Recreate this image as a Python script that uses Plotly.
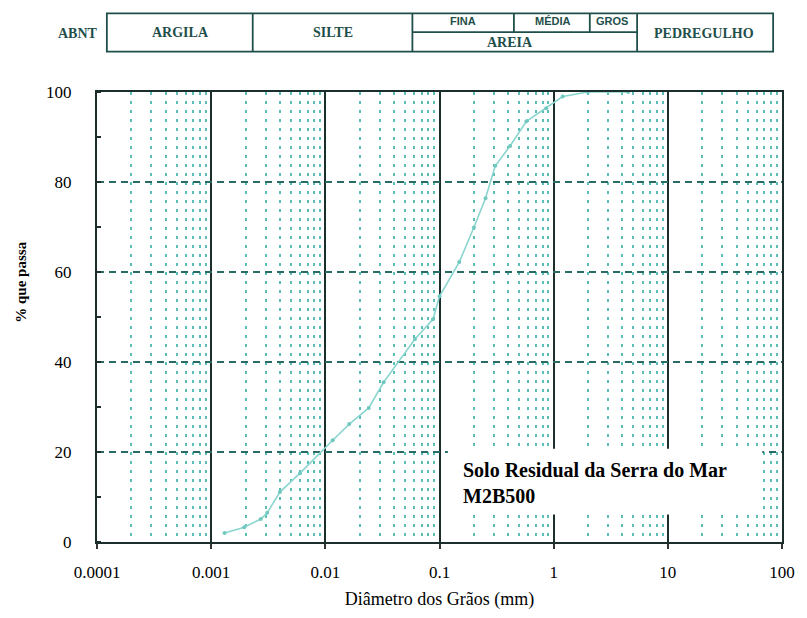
import plotly.graph_objects as go

# Grain-size distribution (particle diameter in mm vs. percent passing)
diametro_mm = [0.00131, 0.00195, 0.00272, 0.0031, 0.0040, 0.0060, 0.0116, 0.0162,
               0.024, 0.0324, 0.061, 0.0877, 0.1, 0.149, 0.20, 0.253, 0.308,
               0.415, 0.577, 0.86, 1.2, 2.0, 4.5]
passa_pct = [2.0, 3.3, 5.1, 6.5, 11.1, 15.3, 22.6, 26.2, 29.8, 35.5, 45.1, 49.5,
             54.6, 62.2, 69.9, 76.4, 83.6, 88.0, 93.5, 96.4, 99.0, 100.0, 100.0]

x_ticks = [0.0001, 0.001, 0.01, 0.1, 1, 10, 100]
x_tick_labels = ["0.0001", "0.001", "0.01", "0.1", "1", "10", "100"]
y_ticks = [0, 20, 40, 60, 80, 100]
minor_x = [k * 10.0 ** d for d in range(-4, 2) for k in range(2, 10)]

legenda = ["Solo Residual da Serra do Mar", "M2B500"]

W, H = 807, 618
L, R, T, B = 97, 15, 92, 68
PW, PH = W - L - R, H - T - B


def px(x):
    return (x - L) / PW


def py(y):
    return (H - B - y) / PH


fig = go.Figure()
fig.add_trace(go.Scatter(
    x=diametro_mm, y=passa_pct, mode="lines+markers",
    line=dict(color="#8ad6cf", width=1.6),
    marker=dict(size=4, color="#70c8c0"),
    showlegend=False, hoverinfo="x+y",
))

serif = "Liberation Serif, Times New Roman, serif"
teal_dark = "#1f4f4b"

fig.update_layout(
    width=W, height=H,
    margin=dict(l=L, r=R, t=T, b=B),
    paper_bgcolor="white", plot_bgcolor="white",
    font=dict(family=serif, color="black"),
    xaxis=dict(
        type="log", range=[-4, 2],
        tickmode="array", tickvals=x_ticks, ticktext=x_tick_labels,
        tickfont=dict(family=serif, size=17, color="black"),
        ticks="outside", ticklen=5, tickwidth=1.5, tickcolor="#333",
        showgrid=True, gridcolor="#1c2e2b", gridwidth=2.2,
        showline=True, linecolor="#1c2e2b", linewidth=2.2, mirror=True,
        zeroline=False,
        minor=dict(tickmode="array", tickvals=minor_x, showgrid=True,
                   gridcolor="#5cbcb6", gridwidth=1.6, griddash="3px,6px",
                   ticks=""),
        title=dict(text="Diâmetro dos Grãos (mm)", standoff=12,
                   font=dict(family=serif, size=18, color="black")),
        ticklabelstandoff=8,
    ),
    yaxis=dict(
        range=[0, 100], tickmode="array", tickvals=y_ticks,
        tickfont=dict(family=serif, size=17, color="black"),
        ticks="", showgrid=True, gridcolor="#2a6b66", gridwidth=2,
        griddash="7px,5px",
        showline=True, linecolor="#1c2e2b", linewidth=2.2, mirror=True,
        zeroline=False,
        minor=dict(dtick=10, ticks="inside", ticklen=4, tickcolor="#1c2e2b",
                   tickwidth=1.5, showgrid=False),
        ticklabelstandoff=20,
    ),
)

# Vertical axis caption
fig.add_annotation(xref="paper", yref="paper", x=px(19), y=py(286),
                   xanchor="center", yanchor="middle", textangle=-90,
                   text="<b>% que passa</b>", showarrow=False,
                   font=dict(family=serif, size=15, color="black"))

# White label box over the grid, with the sample caption
fig.add_shape(type="rect", xref="paper", yref="paper",
              x0=px(453), x1=px(772), y0=py(522), y1=py(455),
              fillcolor="white", line=dict(width=0), layer="above")
fig.add_annotation(xref="paper", yref="paper", x=px(466), y=py(490),
                   xanchor="left", yanchor="middle", align="left",
                   text="<b>" + "<br>".join(legenda) + "</b>", showarrow=False,
                   font=dict(family=serif, size=20, color="black"))

# Soil classification band (ABNT) above the plot
hdr_top, hdr_bot, hdr_mid = py(12), py(51), py(31)
line_style = dict(color=teal_dark, width=1.8)
fig.add_shape(type="rect", xref="paper", yref="paper",
              x0=px(107), x1=px(783), y0=hdr_bot, y1=hdr_top, line=line_style)
for xd in [255, 417, 645]:
    fig.add_shape(type="line", xref="paper", yref="paper",
                  x0=px(xd), x1=px(xd), y0=hdr_bot, y1=hdr_top, line=line_style)
fig.add_shape(type="line", xref="paper", yref="paper",
              x0=px(417), x1=px(645), y0=hdr_mid, y1=hdr_mid, line=line_style)
for xd in [520, 597]:
    fig.add_shape(type="line", xref="paper", yref="paper",
                  x0=px(xd), x1=px(xd), y0=hdr_mid, y1=hdr_top, line=line_style)

hdr_font = dict(family=serif, size=14, color=teal_dark)
small_font = dict(family="Liberation Sans", size=11, color=teal_dark)
for txt, xc, yc, f in [
    ("<b>ABNT</b>", 78, 32, hdr_font),
    ("<b>ARGILA</b>", 182, 31, hdr_font),
    ("<b>SILTE</b>", 336, 31, hdr_font),
    ("<b>FINA</b>", 468, 20, small_font),
    ("<b>MÉDIA</b>", 560, 20, small_font),
    ("<b>GROS</b>", 620, 20, small_font),
    ("<b>AREIA</b>", 516, 42, hdr_font),
    ("<b>PEDREGULHO</b>", 713, 32, hdr_font),
]:
    fig.add_annotation(xref="paper", yref="paper", x=px(xc), y=py(yc),
                       xanchor="center", yanchor="middle", text=txt,
                       showarrow=False, font=f)

fig.write_html("out.html")
